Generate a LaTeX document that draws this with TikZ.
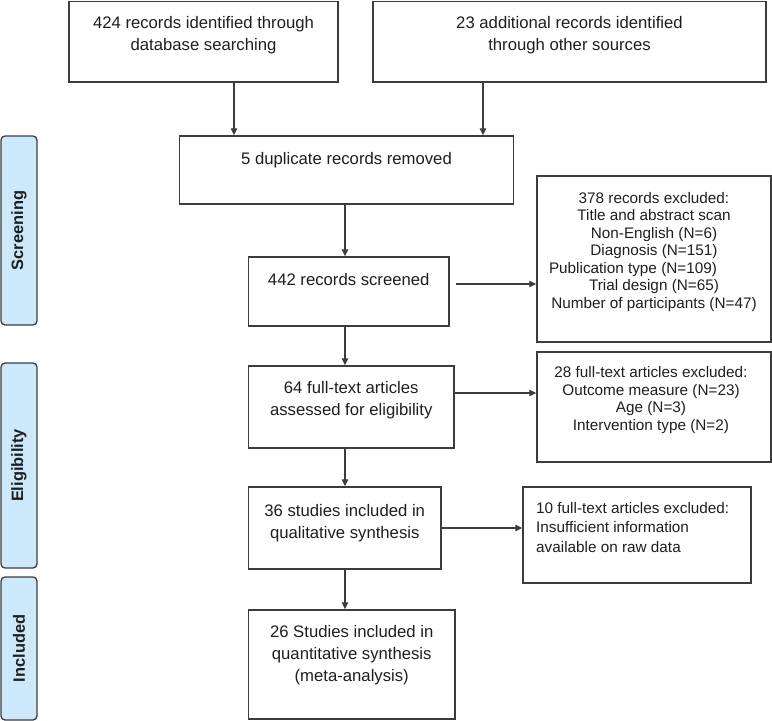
\documentclass[tikz,border=0pt]{standalone}
\usepackage{fontspec}
\setmainfont{Liberation Sans}
\usetikzlibrary{arrows.meta}
\definecolor{lblfill}{RGB}{205,232,250}
\definecolor{edge}{RGB}{60,60,60}
\definecolor{ink}{RGB}{30,30,30}
\tikzset{
  box/.style={draw=edge, line width=1.4pt, rectangle, inner sep=0pt},
  lbl/.style={draw=edge, line width=1.3pt, fill=lblfill, rounded corners=4pt, rectangle, inner sep=0pt, minimum width=36pt},
  lbltext/.style={rotate=90, inner sep=0pt, text=ink, font=\bfseries\fontsize{16.4}{18}\selectfont},
  mt/.style={anchor=north, align=center, inner sep=0pt, text=ink, font=\fontsize{16.7}{22}\selectfont},
  st/.style={anchor=north, align=center, inner sep=0pt, text=ink, font=\fontsize{15.3}{17.5}\selectfont},
  arr/.style={draw=edge, line width=1.2pt, -{Triangle[length=7pt,width=6.5pt]}}
}
\begin{document}
\begin{tikzpicture}[x=1pt,y=-1pt]
\useasboundingbox (0,0) rectangle (772,721);

% side labels
\node[lbl, minimum height=189pt] (S) at (19,230.5) {};
\node[lbltext] (tS) at (S.center) {Screening};
\node[lbl, minimum height=205pt] (El) at (19,465.5) {};
\node[lbltext] (tEl) at (El.center) {Eligibility};
\node[lbl, minimum height=143pt] (In) at (19,648.5) {};
\node[lbltext] (tIn) at (In.center) {Included};

% boxes
\node[box, minimum width=269pt, minimum height=80.5pt] (A) at (203.5,41.75) {};
\node[box, minimum width=393pt, minimum height=80.5pt] (B) at (569.5,41.75) {};
\node[box, minimum width=334pt, minimum height=68pt] (C) at (346.5,170) {};
\node[box, minimum width=234pt, minimum height=166pt] (D) at (654,259) {};
\node[box, minimum width=200.5pt, minimum height=69pt] (E) at (348.75,291.5) {};
\node[box, minimum width=205.5pt, minimum height=82pt] (F) at (351.25,407) {};
\node[box, minimum width=234pt, minimum height=110pt] (G) at (654,407) {};
\node[box, minimum width=192.5pt, minimum height=82pt] (H) at (344.75,528) {};
\node[box, minimum width=228pt, minimum height=96pt] (I) at (637,535) {};
\node[box, minimum width=206.5pt, minimum height=109pt] (J) at (351.75,664.5) {};

% texts (first baseline = y + strut height)
\node[mt] (tA) at (203.5,12.6) {\strut 424 records identified through\\database searching};
\node[mt] (tB) at (569.5,12.6) {\strut 23 additional records identified\\through other sources};
\node[mt] (tC) at (346.5,148.6) {\strut 5 duplicate records removed};
\node[mt] (tE) at (348.75,269.6) {\strut 442 records screened};
\node[mt] (tF) at (351.25,377.6) {\strut 64 full-text articles\\assessed for eligibility};
\node[mt] (tH) at (344.75,500.6) {\strut 36 studies included in\\qualitative synthesis};
\node[mt] (tJ) at (351.75,621.6) {\strut 26 Studies included in\\quantitative synthesis\\(meta-analysis)};
\node[st] (tD) at (654,190.75) {\strut 378 records excluded:\\Title and abstract scan\\Non-English (N=6)\\Diagnosis (N=151)\\Publication type (N=109)\kern42pt\\Trial design (N=65)\\Number of participants (N=47)};
\node[st] (tG) at (651,365.25) {\strut 28 full-text articles excluded:\\Outcome measure (N=23)\\Age (N=3)\\Intervention type (N=2)};
\node[st, anchor=north west, align=left, font=\fontsize{15.3}{19.8}\selectfont] (tI) at (536,499.1) {\strut 10 full-text articles excluded:\\Insufficient information\\available on raw data};

% connector columns / rows
\coordinate (xa) at (234,0);
\coordinate (xb) at (483,0);
\coordinate (xm) at (345,0);
\coordinate (yE) at (456,284);
\coordinate (yF) at (0,393);

\draw[arr] (A.south -| xa) -- (C.north -| xa);
\draw[arr] (B.south -| xb) -- (C.north -| xb);
\draw[arr] (C.south -| xm) -- (E.north -| xm);
\draw[arr] (E.south -| xm) -- (F.north -| xm);
\draw[arr] (F.south -| xm) -- (H.north -| xm);
\draw[arr] (H.south -| xm) -- (J.north -| xm);
\draw[arr] (yE) -- (D.west |- yE);
\draw[arr] (F.east |- yF) -- (G.west |- yF);
\draw[arr] (H.east) -- (I.west |- H.east);
\end{tikzpicture}
\end{document}
